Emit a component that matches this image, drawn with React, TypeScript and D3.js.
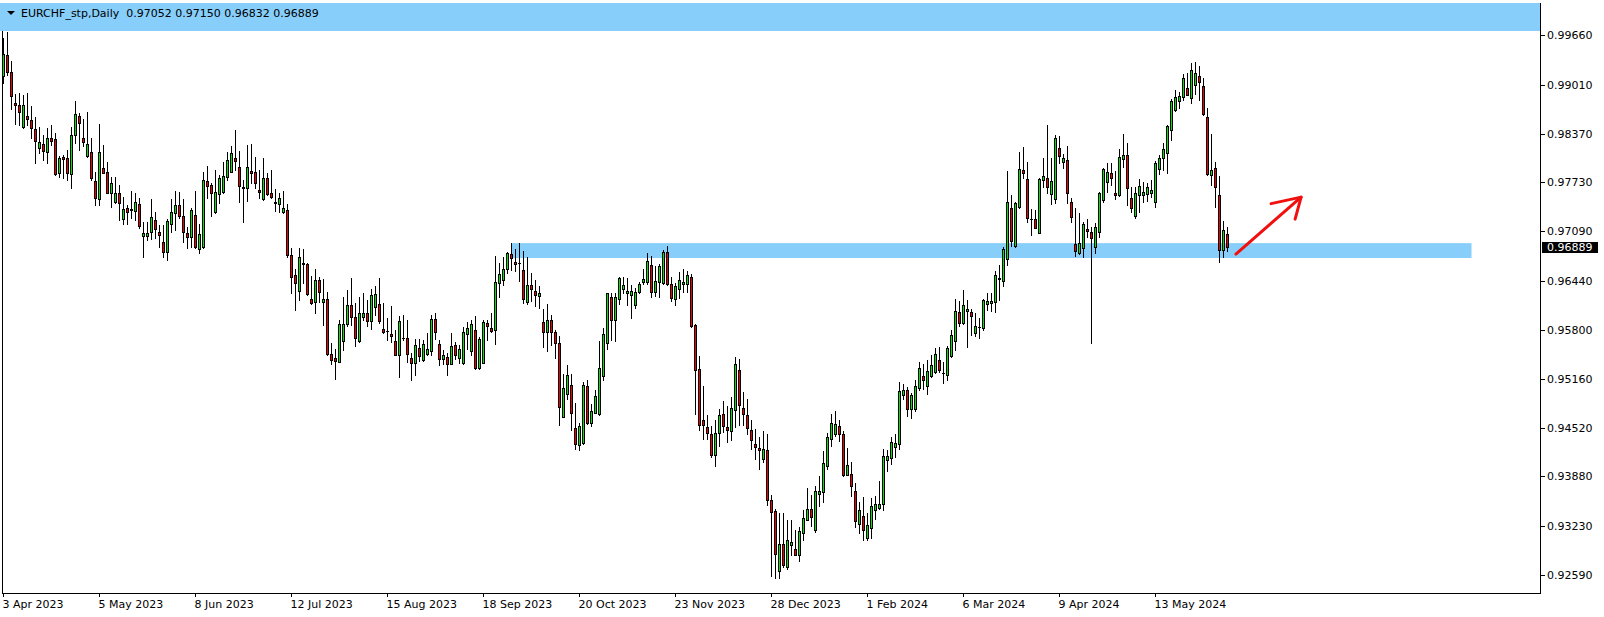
import React from 'react';
import * as d3 from 'd3';

const symbolName = 'EURCHF_stp';
const periodName = 'Daily';

// daily candles, 3 Apr 2023 onward (one entry per trading day)
const opens = [
  0.99122,0.99398,0.99171,0.98769,0.98743,0.98450,0.98598,0.98546,0.98428,0.98183,
  0.98232,0.98123,0.98310,0.98297,0.97848,0.98057,0.98044,0.97835,0.98346,0.98602,
  0.98310,0.98070,0.98127,0.97747,0.97507,0.97913,0.97865,0.97586,0.97476,0.97586,
  0.97245,0.97393,0.97380,0.97358,0.97446,0.97030,0.97030,0.97075,0.97232,0.97075,
  0.96948,0.96817,0.97180,0.97324,0.97432,0.97285,0.97062,0.97017,0.97298,0.96852,
  0.96886,0.97747,0.97695,0.97337,0.97577,0.97599,0.97795,0.97869,0.98052,0.97930,
  0.97668,0.97659,0.97878,0.97861,0.97629,0.97507,0.97782,0.97586,0.97468,0.97442,
  0.97337,0.97367,0.96778,0.96516,0.96310,0.96677,0.96656,0.96201,0.96158,0.96450,
  0.96166,0.96210,0.95481,0.95432,0.95385,0.95655,0.95870,0.96119,0.95965,0.95655,
  0.95969,0.96018,0.95922,0.96096,0.96136,0.95817,0.95782,0.95743,0.95651,0.95471,
  0.95699,0.95699,0.95437,0.95372,0.95568,0.95402,0.95490,0.95524,0.95948,0.95608,
  0.95419,0.95441,0.95354,0.95599,0.95437,0.95367,0.95747,0.95524,0.95804,0.95306,
  0.95367,0.95887,0.95821,0.95795,0.96407,0.96450,0.96590,0.96791,0.96686,0.96669,
  0.96581,0.96166,0.96381,0.96306,0.96237,0.95900,0.95765,0.95935,0.95765,0.95621,
  0.94665,0.94957,0.95084,0.94520,0.94289,0.94324,0.95071,0.94581,0.94712,0.94704,
  0.95192,0.95634,0.96227,0.95935,0.96210,0.96336,0.96284,0.96250,0.96119,0.96293,
  0.96428,0.96428,0.96643,0.96289,0.96428,0.96407,0.96817,0.96394,0.96210,0.96332,
  0.96394,0.96394,0.96489,0.95860,0.95284,0.94616,0.94533,0.94433,0.94167,0.94455,
  0.94704,0.94524,0.94476,0.94756,0.95271,0.94782,0.94691,0.94485,0.94302,0.94253,
  0.94114,0.94223,0.93577,0.93424,0.92638,0.93001,0.92694,0.92988,0.92926,0.92857,
  0.93145,0.93315,0.93459,0.93175,0.93656,0.93677,0.94013,0.94376,0.94442,0.94547,
  0.94442,0.93905,0.93918,0.93690,0.93263,0.93358,0.93079,0.93210,0.93446,0.93472,
  0.93525,0.94092,0.94127,0.94266,0.94311,0.94944,0.95018,0.94769,0.94769,0.95044,
  0.95192,0.95071,0.95192,0.95249,0.95402,0.95236,0.95206,0.95454,0.95651,0.96035,
  0.95883,0.96048,0.96031,0.95760,0.95838,0.95825,0.96136,0.96145,0.96166,0.96459,
  0.96441,0.96721,0.97389,0.96899,0.97402,0.97891,0.97769,0.97245,0.97245,0.97070,
  0.97760,0.97782,0.97577,0.97507,0.98175,0.97992,0.98022,0.97468,0.96918,0.96800,
  0.96865,0.97118,0.97075,0.96886,0.97075,0.97498,0.97730,0.97848,0.97586,0.97564,
  0.98031,0.98088,0.97520,0.97292,0.97564,0.97564,0.97577,0.97586,0.97472,0.97900,
  0.98044,0.98110,0.98415,0.98677,0.98795,0.98851,0.98969,0.98830,0.99005,0.99122,
  0.98991,0.98581,0.97826,0.97913,0.97564,0.96843,0.97052,
];

const highs = [
  0.99616,0.99703,0.99319,0.98887,0.98896,0.98874,0.98896,0.98729,0.98581,0.98450,
  0.98350,0.98437,0.98481,0.98372,0.98074,0.98088,0.98153,0.98458,0.98795,0.98634,
  0.98559,0.98647,0.98306,0.97869,0.98497,0.98219,0.97992,0.97803,0.97803,0.97695,
  0.97541,0.97432,0.97616,0.97594,0.97520,0.97214,0.97214,0.97511,0.97345,0.97171,
  0.97171,0.97249,0.97511,0.97616,0.97607,0.97511,0.97140,0.97389,0.97620,0.97180,
  0.97861,0.97943,0.97721,0.97891,0.97826,0.97992,0.98131,0.98205,0.98415,0.98144,
  0.97760,0.98219,0.98232,0.98057,0.97891,0.98044,0.97848,0.97891,0.97642,0.97594,
  0.97616,0.97446,0.96873,0.96590,0.96865,0.96852,0.96669,0.96506,0.96594,0.96493,
  0.96459,0.96297,0.95621,0.95555,0.95935,0.96231,0.96319,0.96485,0.96145,0.96231,
  0.96284,0.96188,0.96341,0.96371,0.96485,0.96145,0.95961,0.96109,0.95795,0.95978,
  0.95991,0.95926,0.95498,0.95677,0.95686,0.95664,0.95752,0.95991,0.96022,0.95664,
  0.95533,0.95498,0.95752,0.95642,0.95599,0.95838,0.95904,0.95935,0.95978,0.95707,
  0.95926,0.95926,0.96014,0.96764,0.96669,0.96755,0.96821,0.96931,0.96852,0.96931,
  0.96834,0.96755,0.96538,0.96450,0.96371,0.96079,0.96136,0.95991,0.95795,0.95720,
  0.95219,0.95337,0.95228,0.94843,0.94581,0.95118,0.95149,0.94835,0.95018,0.95651,
  0.95830,0.96280,0.96276,0.96276,0.96493,0.96493,0.96472,0.96385,0.96354,0.96428,
  0.96590,0.96800,0.96764,0.96633,0.96660,0.96843,0.96895,0.96493,0.96407,0.96559,
  0.96594,0.96568,0.96525,0.95870,0.95454,0.95061,0.94691,0.94541,0.94616,0.94760,
  0.94865,0.94799,0.94921,0.95445,0.95415,0.94987,0.94891,0.94616,0.94498,0.94397,
  0.94472,0.94442,0.93643,0.93459,0.93402,0.93402,0.93306,0.93306,0.93175,0.93218,
  0.93437,0.93734,0.93643,0.93751,0.93882,0.94210,0.94455,0.94704,0.94734,0.94616,
  0.94472,0.94258,0.94070,0.93795,0.93546,0.93611,0.93402,0.93603,0.93630,0.93821,
  0.94236,0.94232,0.94397,0.94433,0.95118,0.95097,0.95052,0.94979,0.95140,0.95380,
  0.95350,0.95402,0.95468,0.95563,0.95576,0.95380,0.95585,0.95795,0.96210,0.96175,
  0.96319,0.96188,0.96079,0.96022,0.95961,0.96210,0.96284,0.96284,0.96568,0.96647,
  0.96886,0.97878,0.97564,0.97476,0.98131,0.98188,0.97992,0.97376,0.97367,0.97782,
  0.98044,0.98481,0.98044,0.98350,0.98340,0.98101,0.98205,0.97520,0.97389,0.97324,
  0.97214,0.97245,0.97140,0.97201,0.97607,0.97913,0.97979,0.97987,0.97882,0.98162,
  0.98363,0.98249,0.97664,0.97672,0.97769,0.97738,0.97725,0.97760,0.98005,0.98088,
  0.98241,0.98481,0.98821,0.98939,0.98917,0.99145,0.99158,0.99289,0.99302,0.99257,
  0.99092,0.98707,0.98363,0.98000,0.97816,0.97223,0.97150,
];

const lows = [
  0.99027,0.99136,0.98690,0.98494,0.98481,0.98448,0.98481,0.98310,0.97979,0.98110,
  0.98022,0.97979,0.98219,0.97826,0.97803,0.97782,0.97760,0.97659,0.98241,0.98153,
  0.98209,0.98060,0.97760,0.97432,0.97432,0.97848,0.97586,0.97410,0.97455,0.97236,
  0.97184,0.97180,0.97258,0.97236,0.97127,0.96755,0.96974,0.96983,0.96996,0.96886,
  0.96747,0.96712,0.97083,0.97105,0.97266,0.96952,0.96873,0.96886,0.96865,0.96808,
  0.96873,0.97528,0.97288,0.97328,0.97455,0.97594,0.97760,0.97860,0.97891,0.97476,
  0.97214,0.97485,0.97725,0.97651,0.97528,0.97498,0.97564,0.97520,0.97358,0.97345,
  0.97324,0.96755,0.96276,0.96057,0.96188,0.96415,0.96254,0.96136,0.96022,0.96166,
  0.95860,0.95468,0.95350,0.95162,0.95380,0.95533,0.95847,0.95860,0.95585,0.95642,
  0.95926,0.95847,0.95817,0.95991,0.95891,0.95752,0.95664,0.95642,0.95468,0.95183,
  0.95673,0.95380,0.95149,0.95206,0.95393,0.95389,0.95468,0.95468,0.95686,0.95337,
  0.95359,0.95206,0.95350,0.95424,0.95367,0.95359,0.95555,0.95468,0.95293,0.95293,
  0.95363,0.95673,0.95773,0.95612,0.96231,0.96385,0.96538,0.96581,0.96572,0.96441,
  0.96145,0.96136,0.96179,0.96109,0.96087,0.95576,0.95524,0.95599,0.95432,0.94551,
  0.94659,0.94900,0.94485,0.94245,0.94223,0.94311,0.94564,0.94537,0.94708,0.94682,
  0.95140,0.95555,0.95664,0.95655,0.96136,0.96284,0.96123,0.95961,0.96087,0.96284,
  0.96398,0.96398,0.96231,0.96240,0.96231,0.96398,0.96385,0.96175,0.96123,0.96218,
  0.96297,0.96297,0.95838,0.94704,0.94485,0.94376,0.94376,0.94135,0.94017,0.94279,
  0.94463,0.94332,0.94354,0.94528,0.94551,0.94560,0.94442,0.94245,0.94105,0.93974,
  0.94070,0.93512,0.92572,0.92546,0.92546,0.92694,0.92673,0.92848,0.92848,0.92769,
  0.93044,0.93306,0.93231,0.93153,0.93493,0.93546,0.93983,0.94275,0.94406,0.94345,
  0.93886,0.93896,0.93620,0.93218,0.93140,0.93053,0.93053,0.93079,0.93328,0.93459,
  0.93446,0.93952,0.94049,0.94135,0.94245,0.94900,0.94672,0.94651,0.94738,0.95009,
  0.95031,0.94966,0.95183,0.95240,0.95249,0.95105,0.95149,0.95445,0.95533,0.95847,
  0.95875,0.95576,0.95730,0.95716,0.95694,0.95804,0.96057,0.96048,0.96035,0.96188,
  0.96371,0.96647,0.96895,0.96886,0.97389,0.97782,0.97214,0.97040,0.97127,0.97062,
  0.97664,0.97594,0.97446,0.97463,0.97979,0.97913,0.97455,0.97214,0.96764,0.96790,
  0.96747,0.97017,0.95629,0.96808,0.97009,0.97476,0.97607,0.97695,0.97507,0.97550,
  0.97934,0.97432,0.97345,0.97258,0.97345,0.97476,0.97489,0.97533,0.97410,0.97835,
  0.97891,0.97848,0.98284,0.98664,0.98707,0.98808,0.98874,0.98765,0.98883,0.98808,
  0.98612,0.97826,0.97695,0.97410,0.96682,0.96755,0.96832,
];

const closes = [
  0.99407,0.99171,0.98864,0.98739,0.98655,0.98743,0.98555,0.98437,0.98267,0.98258,
  0.98144,0.98306,0.98275,0.97835,0.98044,0.98035,0.97848,0.98350,0.98621,0.98511,
  0.98262,0.98232,0.97790,0.97528,0.98127,0.97856,0.97594,0.97717,0.97586,0.97463,
  0.97380,0.97345,0.97363,0.97472,0.97161,0.97062,0.97062,0.97271,0.97114,0.97040,
  0.96821,0.97229,0.97337,0.97432,0.97292,0.97075,0.97017,0.97367,0.96882,0.97049,
  0.97760,0.97685,0.97586,0.97607,0.97782,0.97812,0.98022,0.98110,0.98013,0.97685,
  0.97659,0.97926,0.97856,0.97717,0.97607,0.97782,0.97577,0.97533,0.97455,0.97520,
  0.97389,0.96781,0.96493,0.96407,0.96751,0.96656,0.96263,0.96153,0.96450,0.96297,
  0.96210,0.95490,0.95411,0.95393,0.95874,0.95874,0.96119,0.95969,0.95694,0.96018,
  0.96018,0.95917,0.96254,0.96267,0.95917,0.95773,0.95782,0.95720,0.95471,0.95913,
  0.95699,0.95477,0.95372,0.95595,0.95454,0.95608,0.95555,0.95948,0.95765,0.95419,
  0.95464,0.95354,0.95585,0.95468,0.95546,0.95769,0.95830,0.95870,0.95301,0.95677,
  0.95896,0.95847,0.95786,0.96424,0.96529,0.96590,0.96800,0.96742,0.96656,0.96669,
  0.96210,0.96385,0.96336,0.96250,0.96280,0.95765,0.95935,0.95765,0.95621,0.94796,
  0.95044,0.95202,0.94717,0.94311,0.94537,0.95084,0.94581,0.94743,0.94930,0.95306,
  0.95739,0.96276,0.95935,0.96227,0.96472,0.96385,0.96306,0.96306,0.96293,0.96398,
  0.96459,0.96703,0.96293,0.96433,0.96633,0.96813,0.96398,0.96218,0.96371,0.96450,
  0.96424,0.96512,0.95851,0.95280,0.94560,0.94560,0.94455,0.94158,0.94450,0.94691,
  0.94541,0.94494,0.94782,0.95359,0.94813,0.94704,0.94515,0.94363,0.94266,0.94232,
  0.94245,0.93577,0.93415,0.92870,0.93001,0.92717,0.93044,0.93022,0.92857,0.93162,
  0.93341,0.93459,0.93349,0.93686,0.93686,0.94062,0.94393,0.94586,0.94564,0.94442,
  0.93896,0.94036,0.93755,0.93293,0.93446,0.93175,0.93240,0.93499,0.93525,0.93525,
  0.94154,0.94154,0.94328,0.94319,0.94996,0.95009,0.94769,0.94944,0.95071,0.95301,
  0.95149,0.95258,0.95337,0.95481,0.95271,0.95236,0.95563,0.95730,0.96048,0.95891,
  0.96123,0.96079,0.95982,0.95847,0.95838,0.96197,0.96175,0.96179,0.96516,0.96485,
  0.96852,0.97468,0.96965,0.97455,0.97900,0.97848,0.97258,0.97245,0.97127,0.97773,
  0.97816,0.97664,0.97747,0.98306,0.98078,0.98044,0.97586,0.97279,0.96834,0.96931,
  0.97184,0.97092,0.96996,0.97140,0.97586,0.97900,0.97869,0.97782,0.97567,0.98057,
  0.98088,0.97651,0.97389,0.97586,0.97681,0.97599,0.97664,0.97629,0.97979,0.98052,
  0.98162,0.98467,0.98795,0.98843,0.98860,0.99092,0.98874,0.99201,0.99158,0.99040,
  0.98621,0.97835,0.97891,0.97664,0.96843,0.97105,0.96889,
];

const priceTicks = [0.9966, 0.9901, 0.9837, 0.9773, 0.9709, 0.9644, 0.958, 0.9516, 0.9452, 0.9388, 0.9323, 0.9259];

const dateTickBars = [0, 24, 48, 72, 96, 120, 144, 168, 192, 216, 240, 264, 288];
const dateTickLabels = [
  '3 Apr 2023', '5 May 2023', '8 Jun 2023', '12 Jul 2023', '15 Aug 2023', '18 Sep 2023', '20 Oct 2023',
  '23 Nov 2023', '28 Dec 2023', '1 Feb 2024', '6 Mar 2024', '9 Apr 2024', '13 May 2024',
];

// support zone: [first bar, last bar] and [top, bottom] price
const zoneBars = [127, 367];
const zonePrices = [0.96935, 0.9674];

// hand drawn arrow, points as [bar, price]
const arrowShaft = [[308.1, 0.96791], [324.4, 0.97537]];
const arrowHead = [[316.9, 0.97452], [324.4, 0.97537], [322.9, 0.97249]];

const W = 1604;
const H = 617;
const FONT = "'DejaVu Sans', Verdana, sans-serif";
const GREEN = '#00e600';
const RED = '#ee0000';
const ZONE_BLUE = '#87cefa';

export default function App() {
  const n = closes.length;
  const x = d3.scaleLinear().domain([0, n - 1]).range([3.5, 3.5 + 4 * (n - 1)]);
  const y = d3.scaleLinear().domain([0.9259, 0.9966]).range([575, 35]);

  const axisX = 1540.5;
  const axisY = 593.5;

  const candles = d3.range(n).map(i => {
    const o = opens[i];
    const c = closes[i];
    const hi = Math.max(highs[i], o, c);
    const lo = Math.min(lows[i], o, c);
    const cx = x(i);
    const top = Math.round(y(Math.max(o, c))) + 0.5;
    const bot = Math.round(y(Math.min(o, c))) + 0.5;
    const fill = c > o ? GREEN : RED;
    return (
      <g key={i}>
        <line x1={cx} x2={cx} y1={Math.round(y(hi))} y2={Math.round(y(lo)) + 1} stroke="#000" />
        {bot - top >= 1 ? (
          <rect x={cx - 1} y={top} width={2} height={bot - top} fill={fill} stroke="#000" />
        ) : (
          <line x1={cx - 1.5} x2={cx + 1.5} y1={top} y2={top} stroke="#000" />
        )}
      </g>
    );
  });

  const last = n - 1;
  const title = `${symbolName},${periodName}  ${opens[last].toFixed(5)} ${highs[last].toFixed(5)} ${lows[last].toFixed(5)} ${closes[last].toFixed(5)}`;
  const lastY = y(closes[last]);

  const pt = (p: number[]) => `${x(p[0])},${y(p[1])}`;

  return (
    <div style={{ position: 'fixed', left: 0, top: 0 }}>
      <svg width={W} height={H} style={{ display: 'block', background: '#fff' }} fontFamily={FONT} fontSize={11}>
        <defs>
          <clipPath id="plot">
            <rect x={3} y={31} width={axisX - 3} height={axisY - 31} />
          </clipPath>
        </defs>

        {/* header strip */}
        <rect x={0} y={3} width={axisX} height={28} fill={ZONE_BLUE} />
        <path d="M7,11 L15,11 L11,15 Z" fill="#000" />
        <text x={21} y={17} fill="#000" style={{ whiteSpace: 'pre' }}>{title}</text>

        <g clipPath="url(#plot)">
          <rect
            x={x(zoneBars[0])}
            y={y(zonePrices[0])}
            width={x(zoneBars[1]) - x(zoneBars[0])}
            height={y(zonePrices[1]) - y(zonePrices[0])}
            fill={ZONE_BLUE}
          />
          <g shapeRendering="crispEdges">{candles}</g>
          <g fill="none" stroke="#f01010" strokeWidth={3} strokeLinecap="round" strokeLinejoin="round">
            <path d={`M${pt(arrowShaft[0])} L${pt(arrowShaft[1])}`} />
            <path d={`M${pt(arrowHead[0])} L${pt(arrowHead[1])} L${pt(arrowHead[2])}`} />
          </g>
        </g>

        {/* frame */}
        <g stroke="#000" shapeRendering="crispEdges">
          <line x1={2.5} x2={2.5} y1={31} y2={axisY} />
          <line x1={2} x2={axisX + 0.5} y1={axisY} y2={axisY} />
          <line x1={axisX} x2={axisX} y1={3} y2={axisY} />
        </g>

        {/* price axis */}
        {priceTicks.map(p => {
          const ty = Math.round(y(p)) + 0.5;
          return (
            <g key={p}>
              <line x1={axisX + 0.5} x2={axisX + 4} y1={ty} y2={ty} stroke="#000" shapeRendering="crispEdges" />
              <text x={1547} y={y(p) + 4} fill="#000">{p.toFixed(5)}</text>
            </g>
          );
        })}
        <rect x={1542} y={Math.round(lastY) - 5} width={56} height={11} fill="#000" />
        <text x={1547} y={lastY + 4} fill="#fff">{closes[last].toFixed(5)}</text>

        {/* time axis */}
        {dateTickBars.map((b, k) => (
          <g key={b}>
            <line x1={x(b)} x2={x(b)} y1={axisY} y2={axisY + 3} stroke="#000" shapeRendering="crispEdges" />
            <text x={x(b) - 1} y={608} fill="#000">{dateTickLabels[k]}</text>
          </g>
        ))}
      </svg>
    </div>
  );
}
